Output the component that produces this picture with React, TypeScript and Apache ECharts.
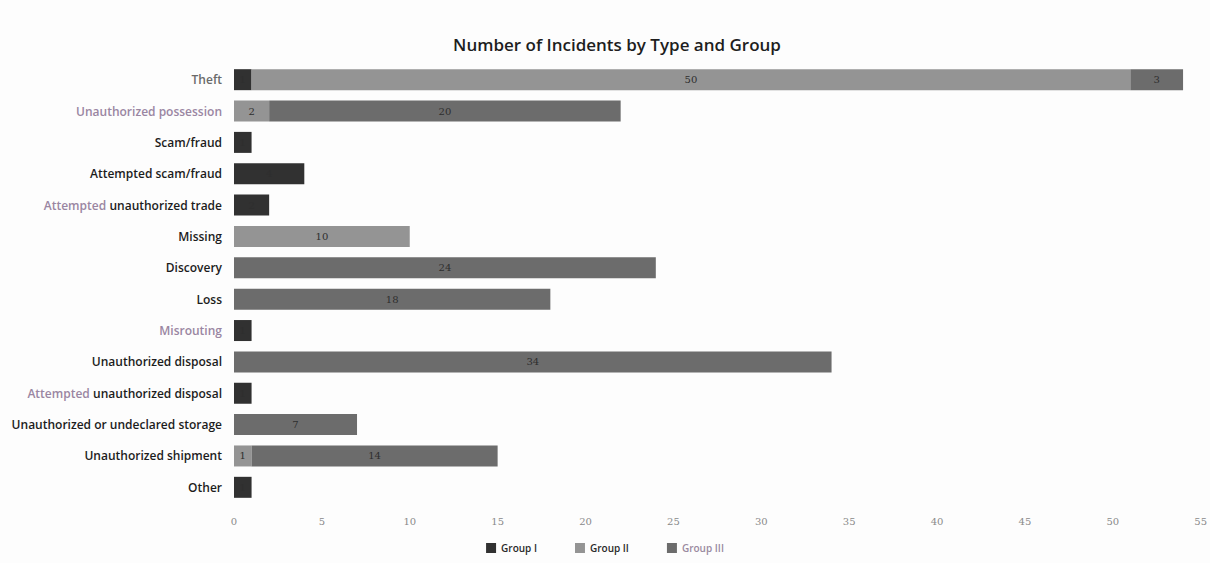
import React, { useEffect, useRef } from "react";
import * as echarts from "echarts";

// Incident types, listed top to bottom
const categories = [
  "Theft",
  "Unauthorized possession",
  "Scam/fraud",
  "Attempted scam/fraud",
  "Attempted unauthorized trade",
  "Missing",
  "Discovery",
  "Loss",
  "Misrouting",
  "Unauthorized disposal",
  "Attempted unauthorized disposal",
  "Unauthorized or undeclared storage",
  "Unauthorized shipment",
  "Other",
];

// Incident counts per group
const groupI = [1, 0, 1, 4, 2, 0, 0, 0, 1, 0, 1, 0, 0, 1];
const groupII = [50, 2, 0, 0, 0, 10, 0, 0, 0, 0, 0, 0, 1, 0];
const groupIII = [3, 20, 0, 0, 0, 0, 24, 18, 0, 34, 0, 7, 14, 0];

const seriesNames = ["Group I", "Group II", "Group III"];
const xTicks = { min: 0, max: 55, interval: 5 };

const FONT = "'Open Sans', 'Noto Sans', sans-serif";

// Category labels, with the softer-tinted words marked up as rich text
const formatCategory = (v: string) => {
  if (v === "Theft") return "{soft|Theft}";
  if (v === "Unauthorized possession" || v === "Misrouting") return `{tint|${v}}`;
  if (v.startsWith("Attempted unauthorized")) {
    return `{tint|Attempted} {base|${v.slice("Attempted ".length)}}`;
  }
  return `{base|${v}}`;
};

export default function App() {
  const ref = useRef<HTMLDivElement>(null);

  useEffect(() => {
    if (!ref.current) return;
    const chart = echarts.init(ref.current, undefined, { renderer: "svg" });
    const colors = ["#313131", "#949494", "#6c6c6c"];
    const values = [groupI, groupII, groupIII];
    const labelFont = { fontFamily: FONT, fontSize: 12, fontWeight: 600 };

    chart.setOption({
      animation: false,
      backgroundColor: "#fdfdfd",
      color: colors,
      title: {
        text: "Number of Incidents by Type and Group",
        left: 612,
        textAlign: "center",
        top: 31,
        textStyle: {
          fontFamily: FONT,
          fontSize: 17,
          fontWeight: 600,
          color: "#1e1e1e",
        },
      },
      legend: {
        bottom: 5,
        left: "center",
        itemWidth: 10,
        itemHeight: 10,
        itemGap: 38,
        icon: "rect",
        data: [
          { name: "Group I", textStyle: { color: "#2a2a2a" } },
          { name: "Group II", textStyle: { color: "#2a2a2a" } },
          { name: "Group III", textStyle: { color: "#9a8aa0" } },
        ],
        textStyle: { fontFamily: FONT, fontSize: 10, fontWeight: 600 },
      },
      grid: { left: 234, right: 7, top: 64, bottom: 60 },
      xAxis: {
        type: "value",
        min: xTicks.min,
        max: xTicks.max,
        interval: xTicks.interval,
        axisLine: { show: false },
        axisTick: { show: false },
        splitLine: { show: false },
        axisLabel: {
          fontFamily: "'DejaVu Serif', serif",
          fontSize: 10,
          color: "#8a8a8a",
          margin: 13,
        },
      },
      yAxis: {
        type: "category",
        data: categories,
        inverse: true,
        axisLine: { show: false },
        axisTick: { show: false },
        axisLabel: {
          margin: 12,
          formatter: formatCategory,
          rich: {
            base: { ...labelFont, color: "#1c1c1c" },
            tint: { ...labelFont, color: "#9a86a2" },
            soft: { ...labelFont, color: "#6a6a6a" },
          },
        },
      },
      series: seriesNames.map((name, i) => ({
        name,
        type: "bar",
        stack: "total",
        barWidth: 21,
        data: values[i],
        label: {
          show: true,
          position: "inside",
          fontFamily: "'DejaVu Serif', serif",
          fontSize: 10,
          color: "#2e2e2e",
          formatter: (p: any) => (p.value ? String(p.value) : ""),
        },
      })),
    });

    return () => chart.dispose();
  }, []);

  return (
    <div
      ref={ref}
      style={{ position: "absolute", left: 0, top: 0, width: 1210, height: 563 }}
    />
  );
}
